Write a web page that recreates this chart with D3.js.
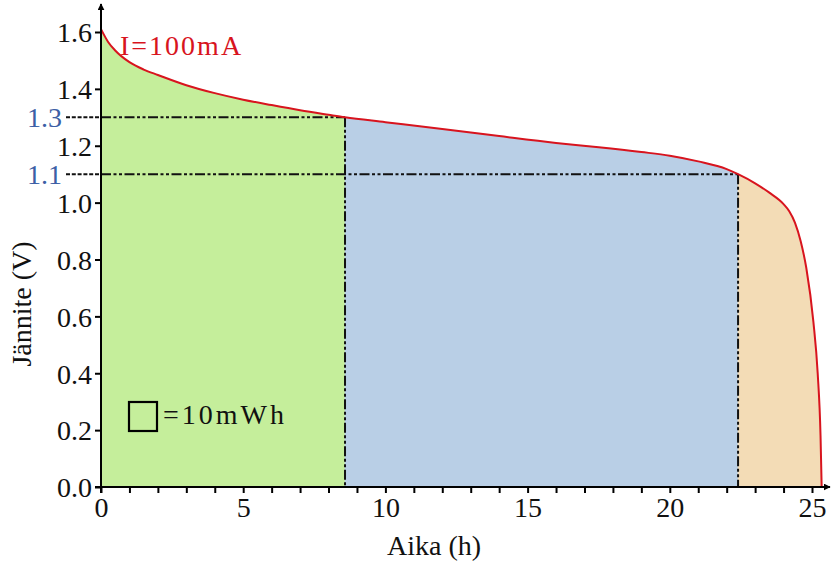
<!DOCTYPE html>
<html><head><meta charset="utf-8">
<script src="https://cdn.jsdelivr.net/npm/d3@7"></script>
<style>
body{margin:0;background:#fff;}
text{font-family:"Liberation Serif","Times New Roman",serif;}
</style></head>
<body><svg id="c" width="831" height="563"></svg>
<script>
// Discharge curve (time in h, voltage in V)
const times = [0, 0.25, 0.5, 1, 1.5, 2, 3, 4, 5, 6, 7, 8, 8.58, 10, 12, 14, 16, 17.5, 19, 20, 21, 22, 22.4, 23, 23.5, 24, 24.2, 24.4, 24.6, 24.8, 25.05, 25.2, 25.3, 25.34];
const volts = [1.61, 1.565, 1.535, 1.494, 1.468, 1.449, 1.413, 1.385, 1.362, 1.343, 1.325, 1.309, 1.3, 1.283, 1.259, 1.234, 1.21, 1.195, 1.178, 1.165, 1.145, 1.118, 1.1, 1.068, 1.035, 0.995, 0.97, 0.93, 0.865, 0.77, 0.58, 0.4, 0.18, 0];
const cutTimes = [8.58, 22.4];
const cutVolts = [1.3, 1.1];
const cutLabels = ["1.3", "1.1"];
const regionColors = ["#c5ee9b", "#b9cfe6", "#f3dcb6"];
const xTicksMajor = [0, 5, 10, 15, 20, 25];
const yTicks = [0, 0.2, 0.4, 0.6, 0.8, 1.0, 1.2, 1.4, 1.6];
const seriesLabel = "I=100mA";
const legendLabel = "=10mWh";
const xTitle = "Aika (h)";
const yTitle = "Jännite (V)";

const svg = d3.select("#c");
const x = d3.scaleLinear().domain([0, 25]).range([101, 812]);
const y = d3.scaleLinear().domain([0, 1.6]).range([487, 32]);
const data = times.map((t, i) => ({t, v: volts[i]}));

// regions
const bounds = [0, cutTimes[0], cutTimes[1], 1e9];
const area = d3.area().x(d => x(d.t)).y0(y(0)).y1(d => y(d.v)).curve(d3.curveMonotoneX);
for (let r = 0; r < 3; r++) {
  const seg = data.filter(d => d.t >= bounds[r] && d.t <= bounds[r + 1]);
  svg.append("path").attr("d", area(seg)).attr("fill", regionColors[r]).attr("stroke", regionColors[r]).attr("stroke-width", 0.5);
}

// dash-dot guides
const dashMain = "10,2.5,3,2.5,3,2.5";
cutTimes.forEach((t, i) => {
  const yy = y(cutVolts[i]);
  svg.append("line").attr("x1", 66).attr("x2", x(0)).attr("y1", yy).attr("y2", yy)
    .attr("stroke", "#111").attr("stroke-width", 2).attr("stroke-dasharray", "4,1.8");
  svg.append("line").attr("x1", x(0)).attr("x2", x(t)).attr("y1", yy).attr("y2", yy)
    .attr("stroke", "#111").attr("stroke-width", 2).attr("stroke-dasharray", dashMain);
  svg.append("line").attr("x1", x(t)).attr("x2", x(t)).attr("y1", yy).attr("y2", y(0))
    .attr("stroke", "#111").attr("stroke-width", 2).attr("stroke-dasharray", dashMain);
  svg.append("text").attr("x", 62).attr("y", yy).attr("dy", "0.35em").attr("text-anchor", "end")
    .attr("font-size", 28).attr("fill", "#3d5fa6").text(cutLabels[i]);
});

// curve
const line = d3.line().x(d => x(d.t)).y(d => y(d.v)).curve(d3.curveMonotoneX);
svg.append("path").attr("d", line(data)).attr("fill", "none").attr("stroke", "#d8141e").attr("stroke-width", 2);

// axes
const xAxis = d3.axisBottom(x).tickValues(d3.range(0, 26)).tickSize(6)
  .tickFormat(d => xTicksMajor.includes(d) ? d : "");
const gx = svg.append("g").attr("transform", `translate(0,${y(0)})`).call(xAxis);
gx.select(".domain").remove();
gx.selectAll(".tick line").attr("stroke", "#000").attr("stroke-width", 2);
gx.selectAll(".tick text").attr("font-size", 28).attr("fill", "#111").attr("y", 8).attr("dy", "0.8em")
  .style("font-family", "'Liberation Serif',serif");

const yAxis = d3.axisLeft(y).tickValues(yTicks).tickSize(6).tickFormat(d3.format(".1f"));
const gy = svg.append("g").attr("transform", `translate(${x(0)},0)`).call(yAxis);
gy.select(".domain").remove();
gy.selectAll(".tick line").attr("stroke", "#000").attr("stroke-width", 2);
gy.selectAll(".tick text").attr("font-size", 28).attr("fill", "#111").attr("x", -9).attr("dy", "0.35em")
  .style("font-family", "'Liberation Serif',serif");

// axis lines with arrows
svg.append("defs").append("marker").attr("id", "arr").attr("viewBox", "0 0 10 10")
  .attr("refX", 9).attr("refY", 5).attr("markerWidth", 7).attr("markerHeight", 7)
  .attr("markerUnits", "userSpaceOnUse").attr("orient", "auto")
  .append("path").attr("d", "M0,0 L10,5 L0,10 Z").attr("fill", "#000");
svg.append("line").attr("x1", 95).attr("x2", 830).attr("y1", y(0)).attr("y2", y(0))
  .attr("stroke", "#000").attr("stroke-width", 2).attr("marker-end", "url(#arr)");
svg.append("line").attr("x1", x(0)).attr("x2", x(0)).attr("y1", y(0) + 6).attr("y2", 4)
  .attr("stroke", "#000").attr("stroke-width", 2).attr("marker-end", "url(#arr)");

// labels
svg.append("text").attr("x", 120).attr("y", 55).attr("font-size", 28).attr("fill", "#d8141e")
  .attr("letter-spacing", 2).text(seriesLabel);
svg.append("rect").attr("x", 129).attr("y", 402).attr("width", 28).attr("height", 29)
  .attr("fill", "none").attr("stroke", "#000").attr("stroke-width", 2.2);
svg.append("text").attr("x", 163).attr("y", 424).attr("font-size", 28).attr("fill", "#111")
  .attr("letter-spacing", 3).text(legendLabel);
svg.append("text").attr("x", 434).attr("y", 555).attr("text-anchor", "middle").attr("font-size", 28)
  .attr("fill", "#111").text(xTitle);
svg.append("text").attr("transform", "translate(31,304) rotate(-90)").attr("text-anchor", "middle")
  .attr("font-size", 28).attr("fill", "#111").text(yTitle);
</script></body></html>
